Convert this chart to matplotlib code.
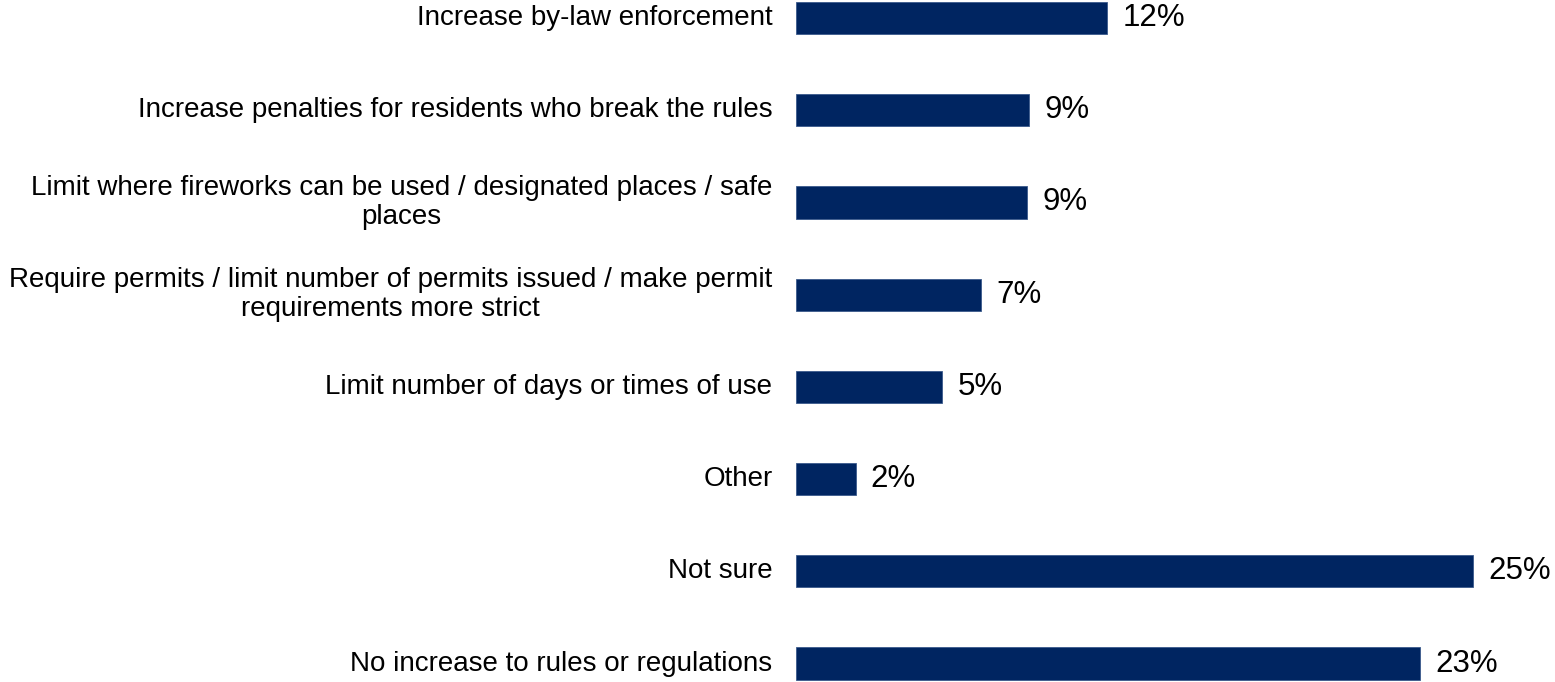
import matplotlib
matplotlib.use("Agg")
import matplotlib.pyplot as plt

categories = [
    "Increase by-law enforcement",
    "Increase penalties for residents who break the rules",
    "Limit where fireworks can be used / designated places / safe\nplaces",
    "Require permits / limit number of permits issued / make permit\nrequirements more strict",
    "Limit number of days or times of use",
    "Other",
    "Not sure",
    "No increase to rules or regulations",
]
values = [11.5, 8.6, 8.55, 6.85, 5.4, 2.2, 25.0, 23.05]
value_labels = ["12%", "9%", "9%", "7%", "5%", "2%", "25%", "23%"]

plt.rcParams['font.family'] = ['Liberation Sans', 'DejaVu Sans']

fig = plt.figure(figsize=(15.55, 6.82), dpi=100)
ax = fig.add_axes([796/1555, 0, 1 - 796/1555, 1])

pos = list(range(len(categories)))
ax.barh(pos, values, height=0.35, color="#002561", edgecolor="#3a5a8c", linewidth=0.6)
ax.set_ylim(7.2, -0.195)
ax.set_xlim(0, 28.04)

for p, v, lab in zip(pos, values, value_labels):
    ax.annotate(lab, (v, p), xytext=(11, 0), textcoords="offset points",
                ha="left", va="center", fontsize=22.5, color="black")

for p, c in zip(pos, categories):
    ax.annotate(c, (0, p), xytext=(-17, 0), textcoords="offset points",
                ha="right", va="center", fontsize=20, color="black",
                multialignment="center", linespacing=1.13)

ax.axis("off")
fig.savefig("out.png", dpi=100)
